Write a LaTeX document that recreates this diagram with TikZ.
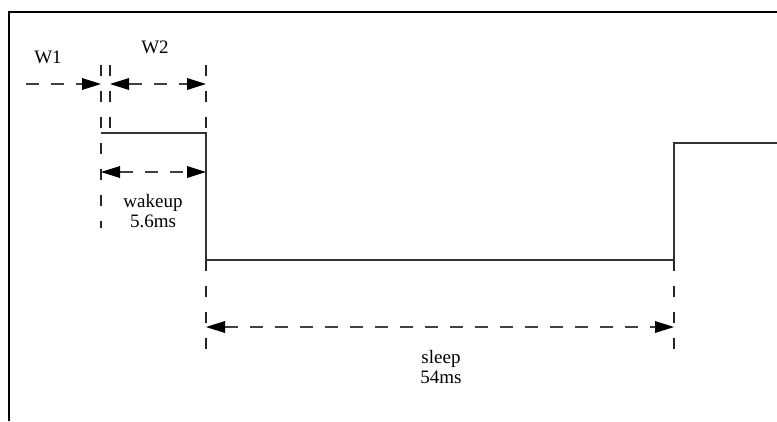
\documentclass[tikz,border=0pt]{standalone}
\usepackage{fontspec}
\setmainfont{Liberation Serif}
\usetikzlibrary{arrows.meta}
\tikzset{
  frameline/.style={line width=2pt, black},
  signal/.style={line width=1.2pt, black!80},
  guide/.style={line width=1.2pt, black!85, dash pattern=on 11pt off 15pt},
  dimline/.style={line width=1.2pt, black!75, dash pattern=on 13pt off 12pt},
  tip/.style={-{Triangle[length=19pt,width=12pt,color=black,line width=0pt]}},
  tips/.style={{Triangle[length=19pt,width=12pt,color=black,line width=0pt]}-{Triangle[length=19pt,width=12pt,color=black,line width=0pt]}},
  lbl/.style={font=\fontsize{19}{20}\selectfont, inner sep=0pt, align=center}
}
\begin{document}
\begin{tikzpicture}[x=1pt,y=-1pt]
\useasboundingbox (0,0) rectangle (777,421);
% frame
\coordinate (fTR) at (777,12);
\coordinate (fTL) at (9,12);
\coordinate (fBL) at (9,421);
\draw[frameline] (fTR) -- (fTL) -- (fBL);
% signal
\coordinate (s0) at (101,133);
\coordinate (s1) at (206,133);
\coordinate (s2) at (206,260);
\coordinate (s3) at (674,260);
\coordinate (s4) at (674,143);
\coordinate (s5) at (777,143);
\draw[signal] (s0) -- (s1) -- (s2) -- (s3) -- (s4) -- (s5);
% guides
\coordinate (gA1) at (101,65);  \coordinate (gA2) at (101,228);
\coordinate (gB1) at (110,65);  \coordinate (gB2) at (110,133);
\coordinate (gC1) at (206,65);  \coordinate (gC2) at (206,133);
\coordinate (gC3) at (206,260); \coordinate (gC4) at (206,356);
\coordinate (gD1) at (674,260); \coordinate (gD2) at (674,356);
\draw[guide] (gA1) -- (gA2);
\draw[guide] (gB1) -- (gB2);
\draw[guide] (gC1) -- (gC2);
\draw[guide] (gC3) -- (gC4);
\draw[guide] (gD1) -- (gD2);
% dimension arrows
\coordinate (w1a) at (26,84);   \coordinate (w1b) at (101,84);
\coordinate (w2a) at (110,84);  \coordinate (w2b) at (206,84);
\coordinate (wka) at (101,172); \coordinate (wkb) at (206,172);
\coordinate (sla) at (206,327); \coordinate (slb) at (674,327);
\draw[dimline, tip] (w1a) -- (w1b);
\draw[dimline, tips] (w2a) -- (w2b);
\draw[dimline, tips] (wka) -- (wkb);
\draw[dimline, tips] (sla) -- (slb);
% labels
\node[lbl] (tW1) at (48,57) {W1};
\node[lbl] (tW2) at (155,47) {W2};
\node[lbl] (tWk) at (153,211) {wakeup\\5.6ms};
\node[lbl] (tSl) at (441,367) {sleep\\54ms};
\end{tikzpicture}
\end{document}
